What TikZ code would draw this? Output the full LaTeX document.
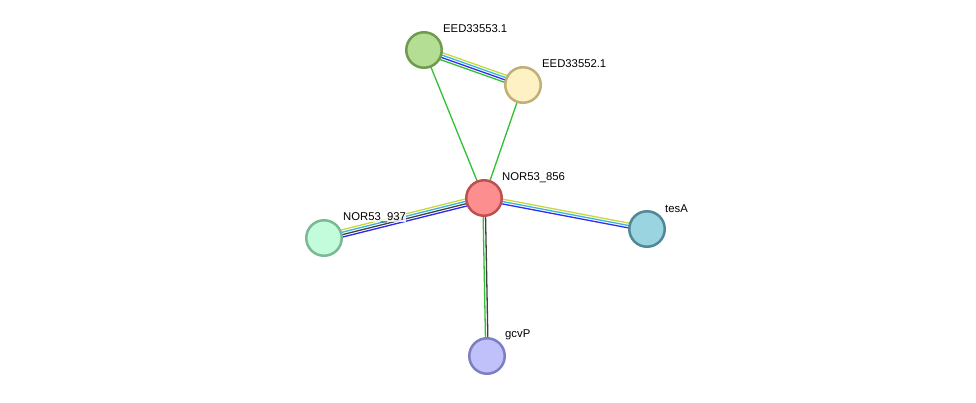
\documentclass[tikz,border=0pt]{standalone}
\usepackage{fontspec}
\setmainfont{Liberation Sans}
\usetikzlibrary{calc}
\pgfdeclarelayer{edges}
\pgfsetlayers{edges,main}
\definecolor{cYel}{HTML}{C8D83C}
\definecolor{cCya}{HTML}{3CB4DC}
\definecolor{cBlu}{HTML}{2E2EF0}
\definecolor{cGrn}{HTML}{30C030}
\definecolor{cGry}{HTML}{404040}
\tikzset{
  prot/.style={circle, minimum size=35.5pt, inner sep=0pt, line width=2.5pt},
  lbl/.style={anchor=base west, inner sep=0pt, font=\fontsize{11.3}{13}\selectfont},
  ln/.style={line width=1.3pt}
}
\newcommand{\multiedge}[3]{%
  \begin{pgfonlayer}{edges}
  \foreach \o/\c in {#3} {
    \draw[ln,\c] ($(#1.center)!\o pt!90:(#2.center)$) -- ($(#2.center)!\o pt!-90:(#1.center)$);
  }
  \end{pgfonlayer}
}
\begin{document}
\begin{tikzpicture}[x=1pt,y=-1pt]
\useasboundingbox (0,0) rectangle (976,402);
\node[prot, draw={rgb,255:red,111;green,154;blue,80}, fill={rgb,255:red,180;green,222;blue,148}] (a) at (424,50) {};
\node[prot, draw={rgb,255:red,190;green,176;blue,118}, fill={rgb,255:red,254;green,242;blue,196}] (b) at (523,85) {};
\node[prot, draw={rgb,255:red,190;green,80;blue,80}, fill={rgb,255:red,252;green,142;blue,144}] (c) at (484,198) {};
\node[prot, draw={rgb,255:red,122;green,184;blue,150}, fill={rgb,255:red,194;green,252;blue,218}] (d) at (324,238) {};
\node[prot, draw={rgb,255:red,80;green,136;blue,152}, fill={rgb,255:red,154;green,212;blue,224}] (e) at (647,229) {};
\node[prot, draw={rgb,255:red,126;green,126;blue,194}, fill={rgb,255:red,192;green,192;blue,250}] (f) at (487,356) {};

\node[lbl] (la) at (443,32) {EED33553.1};
\node[lbl] (lb) at (542,67) {EED33552.1};
\node[lbl] (lc) at (502,180) {NOR53\_856};
\node[lbl, fill=white, fill opacity=0.8, text opacity=1] (ld) at (343,220) {NOR53\_937};
\node[lbl] (le) at (665,212) {tesA};
\node[lbl] (lf) at (505,337) {gcvP};

\multiedge{a}{b}{3.6/cYel,1.2/cCya,-1.2/cBlu,-3.6/cGrn}
\multiedge{d}{c}{3.6/cYel,1.2/cCya,-1.2/cGry,-3.6/cBlu}
\multiedge{c}{e}{2.4/cYel,0/cCya,-2.4/cBlu}
\multiedge{c}{f}{-1.2/cGrn,1.2/cGry}
\multiedge{a}{c}{0/cGrn}
\multiedge{b}{c}{0/cGrn}
\end{tikzpicture}
\end{document}
